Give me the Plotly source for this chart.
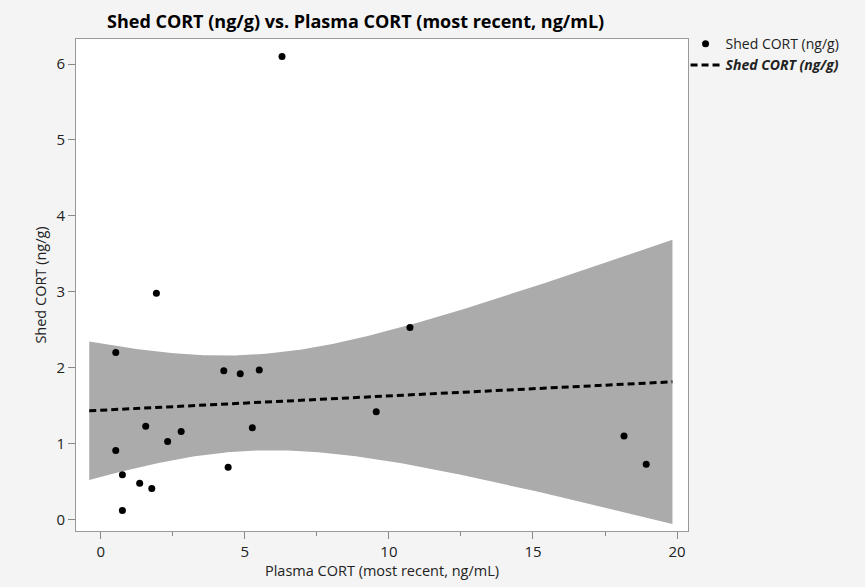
import numpy as np
import plotly.graph_objects as go

# Plasma CORT (most recent, ng/mL) and shed-skin CORT (ng/g) per animal
plasma_cort = [0.52, 0.52, 0.75, 0.75, 1.35, 1.77, 1.56, 1.93, 2.32, 2.79,
               4.27, 4.84, 5.50, 5.26, 4.42, 6.29, 9.56, 10.73, 18.16, 18.93]
shed_cort = [2.20, 0.91, 0.59, 0.12, 0.48, 0.41, 1.23, 2.98, 1.03, 1.16,
             1.96, 1.92, 1.97, 1.21, 0.69, 6.10, 1.42, 2.53, 1.10, 0.73]

x_ticks = [0, 5, 10, 15, 20]
y_ticks = [0, 1, 2, 3, 4, 5, 6]

# Linear fit with 95% confidence band for the mean
x = np.array(plasma_cort)
y = np.array(shed_cort)
n = len(x)
slope, intercept = np.polyfit(x, y, 1)
resid = y - (intercept + slope * x)
s = np.sqrt(np.sum(resid ** 2) / (n - 2))
sxx = np.sum((x - x.mean()) ** 2)
T_CRIT = 2.100922  # two-sided 95%, df = 18

xf = np.linspace(-0.40, 19.84, 200)
yf = intercept + slope * xf
half = T_CRIT * s * np.sqrt(1.0 / n + (xf - x.mean()) ** 2 / sxx)
upper = yf + half
lower = yf - half

font = "Open Sans"

fig = go.Figure()

fig.add_trace(go.Scatter(
    x=np.concatenate([xf, xf[::-1]]),
    y=np.concatenate([upper, lower[::-1]]),
    fill="toself", fillcolor="#ababab", line=dict(width=0),
    mode="lines", hoverinfo="skip", showlegend=False,
))

fig.add_trace(go.Scatter(
    x=plasma_cort, y=shed_cort, mode="markers",
    marker=dict(color="black", size=7),
    name="Shed CORT (ng/g)",
))

fig.add_trace(go.Scatter(
    x=xf, y=yf, mode="lines",
    line=dict(color="black", width=3, dash="7px,4px"),
    name="<b><i>Shed CORT (ng/g)</i></b>",
))

fig.update_layout(
    width=865, height=587,
    margin=dict(l=76, r=177, t=39, b=52),
    paper_bgcolor="#f4f4f4", plot_bgcolor="white",
    font=dict(family=font, size=14, color="#222"),
    title=dict(
        text="<b>Shed CORT (ng/g) vs. Plasma CORT (most recent, ng/mL)</b>",
        x=107 / 865, xanchor="left", y=1 - 22 / 587, yanchor="middle",
        font=dict(family=font, size=18, color="black"),
    ),
    legend=dict(
        x=0.996, xanchor="left", y=1.022, yanchor="top",
        bgcolor="rgba(0,0,0,0)", font=dict(family=font, size=14, color="#222"),
        itemwidth=30, tracegroupgap=0,
    ),
    xaxis=dict(
        range=[-0.86, 20.38], tickvals=x_ticks, ticks="outside", ticklen=7,
        tickcolor="#888", showgrid=False, zeroline=False,
        showline=True, linecolor="#999", mirror=True,
        tickfont=dict(size=15, color="#222"),
        minor=dict(dtick=2.5, tick0=0, ticks="outside", ticklen=4, tickcolor="#888", showgrid=False),
        title=dict(text="Plasma CORT (most recent, ng/mL)", standoff=4,
                   font=dict(size=14.5, color="#222")),
    ),
    yaxis=dict(
        range=[-0.15, 6.33], tickvals=y_ticks, ticks="outside", ticklen=7,
        tickcolor="#888", showgrid=False, zeroline=False,
        showline=True, linecolor="#999", mirror=True,
        tickfont=dict(size=15, color="#222"),
        title=dict(text="Shed CORT (ng/g)", standoff=6,
                   font=dict(size=14.5, color="#222")),
    ),
)

fig.write_html("out.html")
